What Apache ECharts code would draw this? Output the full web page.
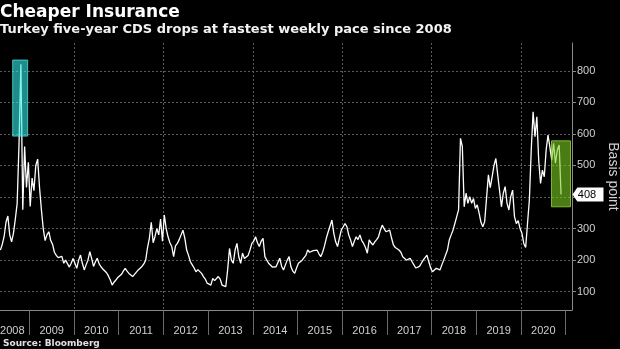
<!DOCTYPE html>
<html><head><meta charset="utf-8">
<script src="https://cdn.jsdelivr.net/npm/echarts@6/dist/echarts.min.js"></script>
<style>html,body{margin:0;padding:0;background:#000;}#c{width:620px;height:349px;}</style>
</head><body><div id="c"></div>
<script>
const titleText = 'Cheaper Insurance';
const subtitleText = 'Turkey five-year CDS drops at fastest weekly pace since 2008';
const sourceText = 'Source: Bloomberg';
const axisName = 'Basis point';

// Turkey 5Y CDS (basis points), read twice a month; 2008 starts in early May (half-month slot 8)
const firstSlot2008 = 8;
const cds2008 = [232,250,275,320,340,280,258,285,330,380,570,821,360,560,430,510];
const cds2009 = [370,460,420,500,520,430,360,300,262,280,290,262,250,225,215,208,204,212,190,200,195,178,190,205];
const cds2010 = [190,174,200,216,190,169,185,200,227,205,180,195,206,188,179,172,169,160,150,137,121,130,137,145];
const cds2011 = [148,155,165,174,165,158,152,148,155,162,169,172,180,188,200,240,270,320,255,275,300,280,330,260];
const cds2012 = [343,300,274,255,243,211,245,253,265,280,295,270,232,215,195,185,175,163,170,169,158,148,140,127];
const cds2013 = [125,121,142,135,137,148,140,121,118,116,169,237,200,190,232,253,210,190,222,205,200,215,232,253];
const cds2014 = [260,274,255,243,260,269,211,200,190,185,178,174,179,185,206,180,169,185,200,211,179,165,158,175];
const cds2015 = [190,185,200,195,215,232,225,222,230,226,232,220,211,225,245,270,290,295,327,285,258,243,270,295];
const cds2016 = [305,316,306,280,264,243,260,274,265,280,262,253,240,222,264,255,248,258,265,274,295,311,300,290];
const cds2017 = [292,295,270,248,240,237,232,225,211,205,200,196,206,195,185,175,169,180,190,200,205,216,195,175];
const cds2018 = [163,165,174,170,169,185,200,195,232,264,280,295,316,338,360,586,560,369,412,380,401,380,395,364];
const cds2019 = [375,350,320,306,322,316,470,430,464,500,522,470,420,369,412,433,380,359,401,422,338,316,325,300];
const cds2020 = [285,253,240,316,391,549,670,591,654,517,443,485,464,549,596,559,517,570,507,549,565,408];

const yearTicks = [2009,2010,2011,2012,2013,2014,2015,2016,2017,2018,2019,2020,2021];
const yearLabels = [2008,2009,2010,2011,2012,2013,2014,2015,2016,2017,2018,2019,2020];
const gridYears = [2010,2012,2014,2016,2018,2020];
const yTicks = [100,200,300,400,500,600,700,800];
const xRange = [2008.345, 2021.141];
const yRange = [42, 888];
// highlight boxes: [fromYear, toYear, low, high]
const boxCyan = [2008.629, 2008.964, 593, 834];
const boxGreen = [2020.682, 2021.107, 369, 578];

const yearSeries = [
  [2008, cds2008, firstSlot2008],[2009, cds2009, 0],[2010, cds2010, 0],[2011, cds2011, 0],
  [2012, cds2012, 0],[2013, cds2013, 0],[2014, cds2014, 0],[2015, cds2015, 0],[2016, cds2016, 0],
  [2017, cds2017, 0],[2018, cds2018, 0],[2019, cds2019, 0],[2020, cds2020, 0]
];
const points = [];
yearSeries.forEach(([yr, arr, off]) => arr.forEach((v, i) => points.push([yr + (i + off + 0.5) / 24, v])));
const lastValue = points[points.length - 1][1];
const labelPos = yearLabels.map(y => y === 2008 ? 2008.62 : y + 0.5);

const boxStyles = [
  {fill: 'rgba(50,235,230,0.6)', stroke: 'rgba(90,230,225,0.75)'},
  {fill: 'rgba(125,205,35,0.6)', stroke: 'rgba(160,225,70,0.75)'}
];

const axisFont = {fontFamily: 'Liberation Sans', fontSize: 11, color: '#d0d0d0'};
const chart = echarts.init(document.getElementById('c'), null, {renderer: 'canvas'});
chart.setOption({
  backgroundColor: '#000',
  animation: false,
  title: {
    text: titleText, subtext: subtitleText, left: 0, top: 4, padding: 0, itemGap: 2,
    textStyle: {fontFamily: 'DejaVu Sans', fontWeight: 'bold', fontSize: 17, color: '#fff'},
    subtextStyle: {fontFamily: 'DejaVu Sans', fontWeight: 'bold', fontSize: 13, color: '#f2f2f2'}
  },
  graphic: [{type: 'text', left: 3, top: 339, style: {text: sourceText, font: 'bold 9px "DejaVu Sans"', fill: '#e0e0e0'}}],
  grid: {left: 0, right: 48, top: 43, bottom: 39, containLabel: false, outerBoundsMode: 'none'},
  xAxis: [{
    type: 'value', min: xRange[0], max: xRange[1],
    axisLine: {show: true, lineStyle: {color: '#8a8a8a', width: 1}},
    axisTick: {show: true, customValues: yearTicks, length: 25, lineStyle: {color: '#6a6a6a'}},
    axisLabel: Object.assign({customValues: labelPos, margin: 15, formatter: v => String(Math.floor(v))}, axisFont),
    splitLine: {show: false}
  }, {
    type: 'value', min: xRange[0], max: xRange[1], position: 'bottom',
    axisLine: {show: false}, axisLabel: {show: false},
    axisTick: {show: false, customValues: gridYears},
    splitLine: {show: true, lineStyle: {color: '#5a5a5a', type: [2, 2], width: 1}}
  }],
  yAxis: {
    type: 'value', position: 'right', min: yRange[0], max: yRange[1],
    name: axisName, nameLocation: 'middle', nameRotate: -90, nameGap: 32,
    nameTextStyle: {fontFamily: 'Liberation Sans', fontSize: 14, color: '#d0d0d0'},
    axisLine: {show: true, lineStyle: {color: '#8a8a8a', width: 1}},
    axisTick: {show: true, customValues: yTicks, length: 4, lineStyle: {color: '#8a8a8a'}},
    axisLabel: Object.assign({customValues: yTicks, margin: 5}, axisFont),
    splitLine: {show: true, lineStyle: {color: '#5a5a5a', type: [2, 2], width: 1}}
  },
  series: [{
    type: 'line', data: points, showSymbol: false, symbol: 'none', z: 2,
    lineStyle: {color: '#ffffff', width: 1.3},
    markPoint: {
      symbol: 'path://M0,7L5,0L32,0L32,14L5,14Z', symbolSize: [31, 14], symbolOffset: [16, 0],
      itemStyle: {color: '#ffffff'},
      label: {show: true, position: 'inside', color: '#000', fontFamily: 'Liberation Sans', fontSize: 11, offset: [-1, 0], formatter: p => String(p.value)},
      data: [{coord: [xRange[1], lastValue], value: lastValue}]
    }
  }, {
    type: 'custom', z: 10, data: [boxCyan, boxGreen], encode: {x: [0, 1], y: [2, 3]},
    renderItem: (params, api) => {
      const p0 = api.coord([api.value(0), api.value(3)]);
      const p1 = api.coord([api.value(1), api.value(2)]);
      const s = boxStyles[params.dataIndex];
      return {type: 'rect', shape: {x: p0[0], y: p0[1], width: p1[0] - p0[0], height: p1[1] - p0[1]},
              style: {fill: s.fill, stroke: s.stroke, lineWidth: 1}};
    }
  }]
});
</script></body></html>
